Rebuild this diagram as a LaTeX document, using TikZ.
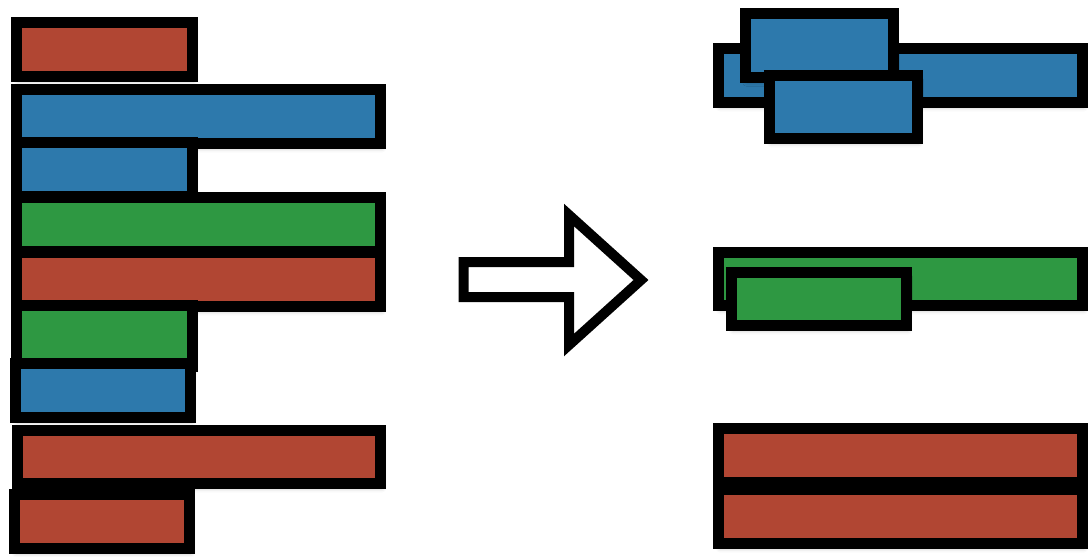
\documentclass[tikz,border=0pt]{standalone}
\usepackage{tikz}
\usetikzlibrary{shadows.blur}
\definecolor{barred}{HTML}{B14633}
\definecolor{barblue}{HTML}{2D79AC}
\definecolor{bargreen}{HTML}{2E9842}
\tikzset{strip/.style={line width=2.2mm, draw=black, blur shadow={shadow xshift=0.3mm, shadow yshift=-0.9mm, shadow blur radius=0.9mm, shadow opacity=30}}}
\def\strip[#1](#2,#3)(#4,#5){\draw[strip, fill=#1] ({#2+5.5},{#3+5.5}) rectangle ({#4-5.5},{#5-5.5});}

\begin{document}
\begin{tikzpicture}[x=0.2mm, y=-0.2mm]
		%%%%% START %%%%%
		\useasboundingbox (0, 0) rectangle (1088, 556);
		
		% before
		\strip[barred](11, 17)(198, 82);
		\strip[barblue](11, 84)(386, 149);
		\strip[barblue](11, 137)(198, 202);
		\strip[bargreen](11, 192)(386, 257);
		\strip[barred](11, 247)(386, 312);
		\strip[bargreen](11, 300)(198, 372);
		\strip[barblue](10, 358)(196, 423);
		\strip[barred](12, 425)(386, 489);
		\strip[barred](9, 489)(195, 554);
		
		\draw[line width=2mm, fill=white] (463.5, 262) -- (569, 262) -- (569, 215) -- (641, 280) -- (569, 345) -- (569, 297) -- (463.5, 297) -- cycle;
		
		% after
		\strip[barblue](713, 43)(1088, 108);
		\strip[barblue](740, 8)(899, 83);
		\strip[barblue](764, 70)(923, 144);
		
		\strip[bargreen](713, 247)(1088, 311);
		\strip[bargreen](726, 267)(912, 331);
		
		\strip[barred](713, 423)(1088, 488);
		\strip[barred](713, 484)(1088, 549);
		
		%%%%% END %%%%%
	\end{tikzpicture}
\end{document}
